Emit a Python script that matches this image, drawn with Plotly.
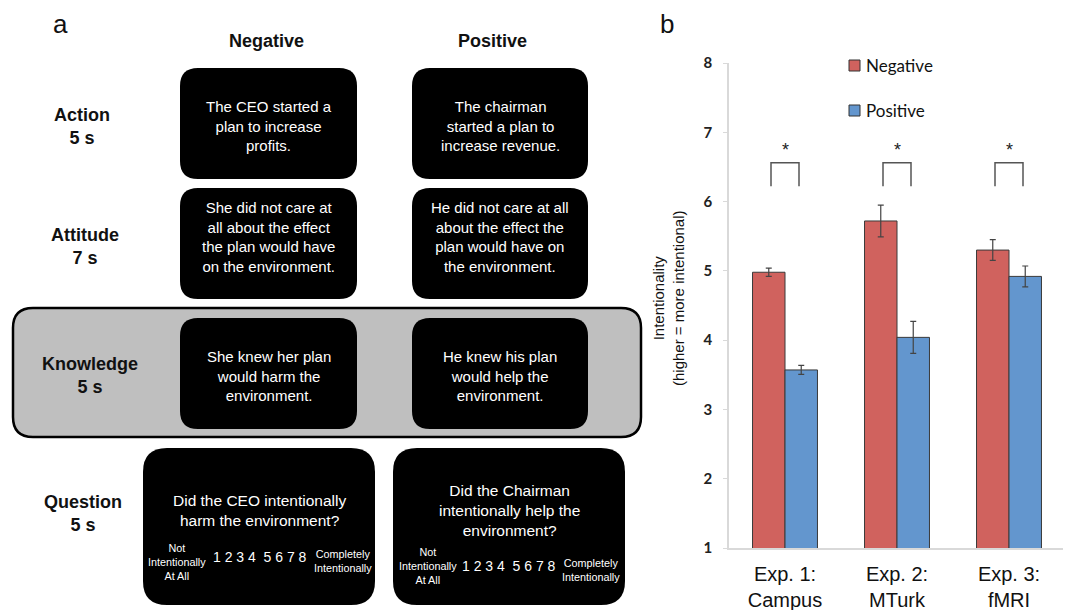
import plotly.graph_objects as go

# ---------------- data (panel b) ----------------
experiments = ["Exp. 1:<br>Campus", "Exp. 2:<br>MTurk", "Exp. 3:<br>fMRI"]
negative_means = [4.98, 5.72, 5.30]
negative_err = [0.06, 0.23, 0.15]
positive_means = [3.57, 4.04, 4.92]
positive_err = [0.065, 0.23, 0.15]
significant = [True, True, True]
y_ticks = [1, 2, 3, 4, 5, 6, 7, 8]
series_names = ["Negative", "Positive"]

# ---------------- text (panel a) ----------------
column_headers = ["Negative", "Positive"]
row_labels = ["Action<br>5 s", "Attitude<br>7 s", "Knowledge<br>5 s", "Question<br>5 s"]
negative_texts = [
    "The CEO started a<br>plan to increase<br>profits.",
    "She did not care at<br>all about the effect<br>the plan would have<br>on the environment.",
    "She knew her plan<br>would harm the<br>environment.",
    "Did the CEO intentionally<br>harm the environment?",
]
positive_texts = [
    "The chairman<br>started a plan to<br>increase revenue.",
    "He did not care at all<br>about the effect the<br>plan would have on<br>the environment.",
    "He knew his plan<br>would help the<br>environment.",
    "Did the Chairman<br>intentionally help the<br>environment?",
]
scale_low = "Not<br>Intentionally<br>At All"
scale_numbers = "1 2 3 4 &nbsp;5 6 7 8"
scale_high = "Completely<br>Intentionally"

# page body has an 8px margin: the figure is drawn 8px in from the window edge
OFF = 8
W, H = 1071 - OFF, 610 - OFF
RED = "#D0625E"
BLUE = "#6396CE"


def px(x):
    return (x - OFF) / W


def py(y):
    return 1 - (y - OFF) / H


def rrect(x0, y0, x1, y1, r):
    X0, X1 = px(x0), px(x1)
    Y0, Y1 = py(y0), py(y1)
    rx, ry = r / W, r / H
    return (f"M{X0+rx},{Y0} L{X1-rx},{Y0} Q{X1},{Y0} {X1},{Y0-ry} "
            f"L{X1},{Y1+ry} Q{X1},{Y1} {X1-rx},{Y1} L{X0+rx},{Y1} "
            f"Q{X0},{Y1} {X0},{Y1+ry} L{X0},{Y0-ry} Q{X0},{Y0} {X0+rx},{Y0} Z")


fig = go.Figure()

fig.add_trace(go.Bar(
    x=list(range(len(experiments))), y=negative_means, name=series_names[0],
    marker=dict(color=RED, line=dict(color="#3a3a3a", width=1)),
    error_y=dict(type="data", array=negative_err, color="#444", thickness=1.2, width=3),
    showlegend=False,
))
fig.add_trace(go.Bar(
    x=list(range(len(experiments))), y=positive_means, name=series_names[1],
    marker=dict(color=BLUE, line=dict(color="#3a3a3a", width=1)),
    error_y=dict(type="data", array=positive_err, color="#444", thickness=1.2, width=3),
    showlegend=False,
))

# significance brackets
bx, by = [], []
for i, s in enumerate(significant):
    if s:
        bx += [i - 0.125, i - 0.125, i + 0.125, i + 0.125, None]
        by += [6.22, 6.56, 6.56, 6.22, None]
fig.add_trace(go.Scatter(x=bx, y=by, mode="lines", line=dict(color="#555", width=1.5),
                         showlegend=False, hoverinfo="skip"))

annotations = []
shapes = []

for i, s in enumerate(significant):
    if s:
        annotations.append(dict(x=i, y=6.74, xref="x", yref="y", text="*", showarrow=False,
                                font=dict(family="Liberation Sans, Arial", size=18, color="#222"),
                                xanchor="center", yanchor="middle"))

# manual legend
leg_y = [66, 111]
for name, col, yy in zip(series_names, [RED, BLUE], leg_y):
    shapes.append(dict(type="rect", xref="paper", yref="paper",
                       x0=px(849), x1=px(860), y0=py(yy - 6), y1=py(yy + 5),
                       fillcolor=col, line=dict(color="#333", width=1)))
    annotations.append(dict(x=px(864), y=py(yy), xref="paper", yref="paper", text=name,
                            showarrow=False, xanchor="left", yanchor="middle",
                            font=dict(family="Lato, Open Sans", size=17, color="#111")))

# y axis title
annotations.append(dict(x=px(669), y=py(298), xref="paper", yref="paper",
                        text="Intentionality<br>(higher = more intentional)", textangle=-90,
                        showarrow=False, xanchor="center", yanchor="middle",
                        font=dict(family="Liberation Sans, Arial", size=15, color="#111")))

# panel letters
annotations.append(dict(x=px(60), y=1, xref="paper", yref="paper", text="a", showarrow=False,
                        xanchor="center", yanchor="top", borderpad=0,
                        font=dict(family="Liberation Sans, Arial", size=26, color="#111")))
annotations.append(dict(x=px(667), y=1, xref="paper", yref="paper", text="b", showarrow=False,
                        xanchor="center", yanchor="top", borderpad=0,
                        font=dict(family="Liberation Sans, Arial", size=26, color="#111")))

# ---------------- panel a drawing ----------------
# grey knowledge band
shapes.append(dict(type="path", xref="paper", yref="paper", path=rrect(13, 308, 641, 437, 20),
                   fillcolor="#BFBFBF", line=dict(color="#000", width=2.5)))

box_rows = [(68, 179), (188, 299), (318, 429)]
neg_x = (180, 357)
pos_x = (412, 588)
for (y0, y1) in box_rows:
    for (x0, x1) in (neg_x, pos_x):
        shapes.append(dict(type="path", xref="paper", yref="paper", path=rrect(x0, y0, x1, y1, 18),
                           fillcolor="#000", line=dict(color="#000", width=0)))
# question boxes
q_neg = (143, 448, 375, 605)
q_pos = (393, 448, 625, 605)
for (x0, y0, x1, y1) in (q_neg, q_pos):
    shapes.append(dict(type="path", xref="paper", yref="paper", path=rrect(x0, y0, x1, y1, 24),
                       fillcolor="#000", line=dict(color="#000", width=0)))

BOLD = dict(family="Liberation Sans, Arial", size=18, color="#111", weight="bold")
WHITE = dict(family="Liberation Sans, Arial", size=15, color="#fff")

# headers
for txt, xc in zip(column_headers, [266, 492]):
    annotations.append(dict(x=px(xc), y=py(41), xref="paper", yref="paper", text=txt, showarrow=False,
                            xanchor="center", yanchor="middle", font=BOLD))

# row labels
for txt, (xc, yc) in zip(row_labels, [(82, 126), (84.5, 246), (90, 375), (82.5, 513.5)]):
    annotations.append(dict(x=px(xc), y=py(yc), xref="paper", yref="paper", text=txt, showarrow=False,
                            xanchor="center", yanchor="middle", font=BOLD))

# box texts
text_y = [126, 237, 376]
for k in range(3):
    annotations.append(dict(x=px(268.5), y=py(text_y[k]), xref="paper", yref="paper",
                            text=negative_texts[k], showarrow=False, xanchor="center",
                            yanchor="middle", font=WHITE))
    annotations.append(dict(x=px(500), y=py(text_y[k]), xref="paper", yref="paper",
                            text=positive_texts[k], showarrow=False, xanchor="center",
                            yanchor="middle", font=WHITE))

QF = dict(family="Liberation Sans, Arial", size=15.5, color="#fff")
annotations.append(dict(x=px(259), y=py(510), xref="paper", yref="paper", text=negative_texts[3],
                        showarrow=False, xanchor="center", yanchor="middle", font=QF))
annotations.append(dict(x=px(509), y=py(510), xref="paper", yref="paper", text=positive_texts[3],
                        showarrow=False, xanchor="center", yanchor="middle", font=QF))

SMALL = dict(family="Liberation Sans, Arial", size=10.8, color="#fff")
NUM = dict(family="Liberation Sans, Arial", size=14, color="#fff")
for (lx, ly), (nx, ny), (hx, hy) in [((177, 562), (260, 557), (343, 560.5)),
                                     ((428, 565.5), (509, 566), (591, 569.5))]:
    annotations.append(dict(x=px(lx), y=py(ly), xref="paper", yref="paper", text=scale_low,
                            showarrow=False, xanchor="center", yanchor="middle", font=SMALL))
    annotations.append(dict(x=px(nx), y=py(ny), xref="paper", yref="paper", text=scale_numbers,
                            showarrow=False, xanchor="center", yanchor="middle", font=NUM))
    annotations.append(dict(x=px(hx), y=py(hy), xref="paper", yref="paper", text=scale_high,
                            showarrow=False, xanchor="center", yanchor="middle", font=SMALL))

fig.update_layout(
    template="none",
    width=W, height=H,
    margin=dict(l=0, r=0, t=0, b=0, pad=0, autoexpand=False),
    paper_bgcolor="white", plot_bgcolor="white",
    barmode="group", bargap=0.42, bargroupgap=0,
    shapes=shapes, annotations=annotations,
    xaxis=dict(domain=[px(729), px(1065)], range=[-0.5, 2.5], automargin=False,
               tickvals=list(range(len(experiments))), ticktext=experiments,
               showline=True, linecolor="#D9D9D9", linewidth=1.5, ticks="",
               showgrid=False, zeroline=False, ticklabelstandoff=7,
               tickfont=dict(family="Liberation Sans, Arial", size=20, color="#111")),
    yaxis=dict(domain=[py(548), py(63)], range=[1, 8], tickvals=y_ticks, automargin=False,
               showline=True, linecolor="#D9D9D9", linewidth=1.5, ticks="outside",
               ticklen=4, tickcolor="#D9D9D9", showgrid=False, zeroline=False,
               ticklabelstandoff=8,
               tickfont=dict(family="Lato, Open Sans", size=15, color="#222", weight="bold")),
)

fig.write_html("out.html")
